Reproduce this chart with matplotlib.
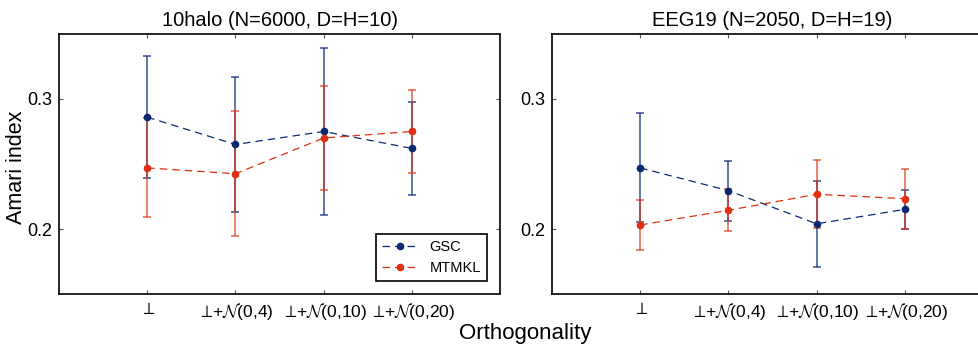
import numpy as np
import matplotlib
matplotlib.use('Agg')
import matplotlib.pyplot as plt
plt.rc('font', family=['Liberation Sans', 'DejaVu Sans'])
plt.rc('mathtext', fontset='cm')

# x categories
conditions = [r'$\perp$', r'$\perp\!$+$\mathcal{N}$(0,4)',
              r'$\perp\!$+$\mathcal{N}$(0,10)', r'$\perp\!$+$\mathcal{N}$(0,20)']

# 10halo
halo_gsc = [0.286, 0.265, 0.275, 0.262]
halo_gsc_err = [0.047, 0.052, 0.064, 0.036]
halo_mtmkl = [0.247, 0.2425, 0.270, 0.275]
halo_mtmkl_err = [0.038, 0.048, 0.040, 0.032]

# EEG19
eeg_gsc = [0.247, 0.2295, 0.204, 0.2151]
eeg_gsc_err = [0.042, 0.023, 0.033, 0.015]
eeg_mtmkl = [0.2031, 0.2144, 0.2267, 0.2233]
eeg_mtmkl_err = [0.019, 0.016, 0.026, 0.023]

titles = ['10halo (N=6000, D=H=10)', 'EEG19 (N=2050, D=H=19)']

blue = '#0c2870'
red = '#e03010'

fig = plt.figure(figsize=(9.79, 3.44), dpi=100)
ax1 = fig.add_axes([0.0603, 0.1453, 0.4505, 0.756])
ax2 = fig.add_axes([0.5638, 0.1453, 0.4505, 0.756])

panels = [(ax1, halo_gsc, halo_gsc_err, halo_mtmkl, halo_mtmkl_err),
          (ax2, eeg_gsc, eeg_gsc_err, eeg_mtmkl, eeg_mtmkl_err)]

x = np.arange(1, len(conditions) + 1)
for i, (ax, g, ge, m, me) in enumerate(panels):
    ax.errorbar(x, g, yerr=ge, fmt='none', ecolor=blue, alpha=0.75,
                elinewidth=1.2, capsize=3, capthick=1.2)
    ax.errorbar(x, m, yerr=me, fmt='none', ecolor=red, alpha=0.7,
                elinewidth=1.2, capsize=3, capthick=1.2)
    ax.plot(x, g, '--o', color=blue, lw=0.9, ms=4.5, label='GSC', dashes=(6, 4))
    ax.plot(x, m, '--o', color=red, lw=0.9, ms=4.5, label='MTMKL', dashes=(6, 4))
    ax.set_xlim(0, 5)
    ax.set_ylim(0.15, 0.35)
    ax.set_xticks(x)
    ax.set_xticklabels(conditions, fontsize=12.5)
    ax.set_yticks([0.2, 0.3])
    ax.set_yticklabels(['0.2', '0.3'], fontsize=13)
    ax.tick_params(direction='in', top=True, right=True, length=3, width=0.8,
                   color='#555555', pad=5)
    for sp in ax.spines.values():
        sp.set_linewidth(1.2)
    ax.set_title(titles[i], fontsize=14.5, pad=6)

fig.text(17 / 979, 1 - 167 / 344, 'Amari index', fontsize=15.5,
         rotation=90, ha='center', va='center')
leg = ax1.legend(loc='lower right', fontsize=10.5, fancybox=False,
                 edgecolor='black', framealpha=1, borderaxespad=0.9,
                 handlelength=2.5)
leg.get_frame().set_linewidth(1.2)
fig.text(525 / 979, 1 - 333 / 344, 'Orthogonality', fontsize=16,
         ha='center', va='center')

plt.savefig('out.png', dpi=100)
plt.close()
